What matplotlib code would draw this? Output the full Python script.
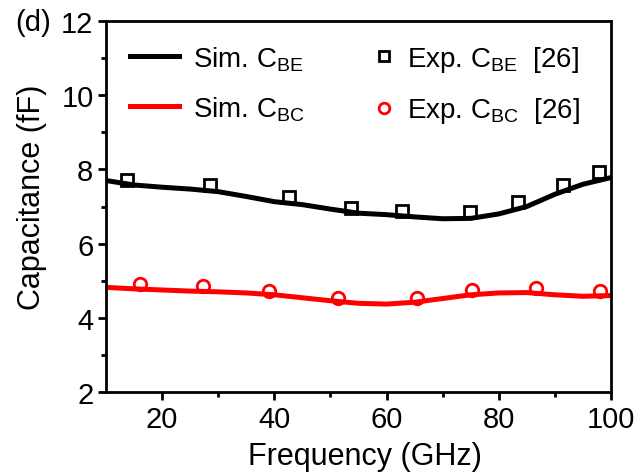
import numpy as np
import matplotlib
matplotlib.use('Agg')
import matplotlib.pyplot as plt

plt.rcParams['font.family'] = ['Liberation Sans', 'DejaVu Sans']
plt.rcParams['mathtext.fontset'] = 'custom'
plt.rcParams['mathtext.rm'] = 'Liberation Sans'

# simulated curves
f_sim = [10, 15, 20, 25, 30, 35, 40, 45, 50, 55, 60, 65, 70, 75, 80, 85, 90, 95, 100]
cbe_sim = [7.70, 7.58, 7.52, 7.47, 7.40, 7.27, 7.13, 7.05, 6.93, 6.82, 6.78,
           6.72, 6.67, 6.68, 6.80, 7.00, 7.33, 7.60, 7.78]
cbc_sim = [4.82, 4.78, 4.75, 4.72, 4.70, 4.67, 4.62, 4.54, 4.46, 4.39, 4.37,
           4.42, 4.52, 4.62, 4.67, 4.68, 4.62, 4.58, 4.60]

# measured points [26]
f_exp_be = [13.7, 28.5, 42.6, 53.7, 62.7, 74.9, 83.5, 91.4, 97.9]
cbe_exp = [7.72, 7.59, 7.25, 6.95, 6.88, 6.84, 7.11, 7.58, 7.94]
f_exp_bc = [16.1, 27.3, 39.1, 51.4, 65.5, 75.3, 86.7, 98.1]
cbc_exp = [4.91, 4.85, 4.73, 4.53, 4.53, 4.75, 4.80, 4.73]

W, H = 635, 477
fig = plt.figure(figsize=(6.35, 4.77), dpi=100)
ax = fig.add_axes([106 / W, 1 - 393 / H, 505 / W, 371 / H])

l1, = ax.plot(f_sim, cbe_sim, color='black', lw=3.6, label=r'Sim. C$_{\mathrm{BE}}$')
l2, = ax.plot(f_sim, cbc_sim, color='red', lw=3.6, label=r'Sim. C$_{\mathrm{BC}}$')
p1, = ax.plot(f_exp_be, cbe_exp, 's', ms=9, mfc='none', mec='black', mew=2,
              label=r'Exp. C$_{\mathrm{BE}}$  [26]')
p2, = ax.plot(f_exp_bc, cbc_exp, 'o', ms=9, mfc='none', mec='red', mew=2,
              label=r'Exp. C$_{\mathrm{BC}}$  [26]')

ax.set_xlim(10, 100)
ax.set_ylim(2, 12)
ax.set_xticks([20, 40, 60, 80, 100])
ax.set_xticks([30, 50, 70, 90], minor=True)
ax.set_yticks([2, 4, 6, 8, 10, 12])
ax.set_yticks([3, 5, 7, 9, 11], minor=True)
ax.tick_params(which='major', direction='out', length=6, width=2, labelsize=21, pad=3)
ax.tick_params(which='minor', direction='out', length=3.5, width=2)
for s in ax.spines.values():
    s.set_linewidth(2)

ax.set_xlabel('Frequency (GHz)', fontsize=22)
ax.set_ylabel('Capacitance (fF)', fontsize=22)
ax.xaxis.set_label_coords((365 - 106) / 505, -(457 - 393) / 371)
ax.xaxis.label.set_va('center')
ax.yaxis.set_label_coords((32 - 106) / 505, (393 - 197) / 371)
ax.yaxis.label.set_va('center')

leg1 = ax.legend(handles=[l1, l2], frameon=False, fontsize=20, loc='upper left',
                 bbox_to_anchor=(116 / W, 1 - 31 / H), bbox_transform=fig.transFigure,
                 borderpad=0, handlelength=1.76, handletextpad=0.5, labelspacing=0.77)
ax.add_artist(leg1)
ax.legend(handles=[p1, p2], frameon=False, fontsize=20, loc='upper left',
          bbox_to_anchor=(359 / W, 1 - 31 / H), bbox_transform=fig.transFigure,
          borderpad=0, handlelength=0.8, handletextpad=0.43, labelspacing=0.77,
          markerscale=0.85)

fig.text(15 / W, 1 - 23 / H, '(d)', fontsize=21, va='center', ha='left')

fig.savefig('out.png', dpi=100)
